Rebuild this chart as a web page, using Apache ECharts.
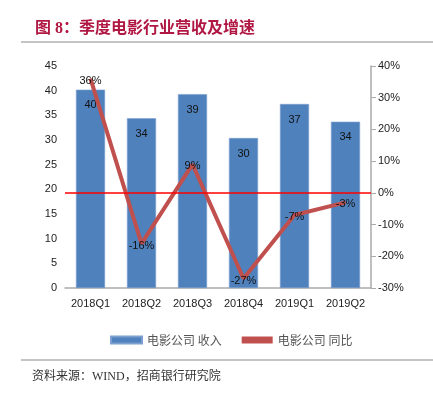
<!DOCTYPE html>
<html>
<head>
<meta charset="utf-8">
<script src="https://cdn.jsdelivr.net/npm/echarts@6/dist/echarts.min.js"></script>
<style>
  html, body { margin: 0; padding: 0; background: #fff; }
  #chart { width: 433px; height: 398px; }
</style>
</head>
<body>
<div id="chart"></div>
<script>
let categories = ['2018Q1', '2018Q2', '2018Q3', '2018Q4', '2019Q1', '2019Q2'];
let revenue = [40.2, 34.4, 39.3, 30.4, 37.3, 33.7];   // 电影公司 收入
let growth = [36, -16, 9, -27, -7, -3];                 // 电影公司 同比 (%)
let zeroLine = [0];                                     // 0% 参考线（右轴）

let chart = echarts.init(document.getElementById('chart'));

let options = {
    animation: false,
    title: {
        text: '图 8：季度电影行业营收及增速',
        left: 30,
        top: 16,
        textStyle: {
            color: '#b01843',
            fontSize: 16,
            fontWeight: 'bold',
            fontFamily: '"Liberation Serif", "Noto Sans CJK SC", serif'
        }
    },
    graphic: [
        { type: 'line', shape: { x1: 21, y1: 42, x2: 433, y2: 42 }, style: { stroke: '#b0b0b0', lineWidth: 1.5 } },
        { type: 'line', shape: { x1: 21, y1: 360, x2: 433, y2: 360 }, style: { stroke: '#b0b0b0', lineWidth: 1.5 } },
        {
            type: 'text', left: 32, top: 371,
            style: {
                text: '资料来源：WIND，招商银行研究院',
                fill: '#333',
                font: '12px "Liberation Serif", "Noto Sans CJK SC", serif'
            }
        }
    ],
    grid: {
        left: 65,
        right: 62,
        top: 66,
        bottom: 110
    },
    legend: {
        top: 329,
        left: 105,
        itemGap: 20,
        itemWidth: 31,
        itemHeight: 7,
        textStyle: { color: '#555', fontSize: 12, fontFamily: '"Noto Sans CJK SC", sans-serif' },
        data: [
            { name: '电影公司 收入', icon: 'rect' },
            { name: '电影公司 同比', icon: 'rect', itemStyle: { color: '#c0504d' } }
        ]
    },
    xAxis: {
        type: 'category',
        data: categories,
        axisLine: { onZero: false, lineStyle: { color: '#aaa', width: 1.5 } },
        axisTick: { show: false },
        axisLabel: { color: '#222', fontSize: 11, margin: 10, fontFamily: 'Liberation Sans, sans-serif' }
    },
    yAxis: [
        {
            type: 'value',
            min: 0,
            max: 45,
            interval: 5,
            axisLine: { show: false },
            axisTick: { show: false },
            splitLine: { show: false },
            axisLabel: { color: '#222', fontSize: 11, margin: 8, fontFamily: 'Liberation Sans, sans-serif' }
        },
        {
            type: 'value',
            min: -30,
            max: 40,
            interval: 10,
            axisLine: { show: true, lineStyle: { color: '#aaa', width: 1.5 } },
            axisTick: { show: true, length: 5, lineStyle: { color: '#aaa' } },
            splitLine: { show: false },
            axisLabel: { color: '#222', fontSize: 11, margin: 7, formatter: '{value}%', fontFamily: 'Liberation Sans, sans-serif' }
        }
    ],
    series: [
        {
            name: '电影公司 收入',
            type: 'bar',
            data: revenue,
            barWidth: '57%',
            itemStyle: { color: '#4f81bd', borderColor: '#7a9fd0', borderWidth: 0.6 },
            label: {
                show: true,
                position: 'insideTop',
                distance: 10,
                color: '#111',
                fontSize: 11,
                fontFamily: 'Liberation Sans, sans-serif',
                formatter: (p) => Math.round(p.value)
            }
        },
        {
            name: 'zero',
            type: 'line',
            yAxisIndex: 1,
            data: [],
            z: 2,
            color: '#ff0000',
            markLine: {
                silent: true,
                symbol: ['none', 'none'],
                label: { show: false },
                lineStyle: { color: '#ff0000', width: 1.6, type: 'solid' },
                data: zeroLine.map((v) => ({ yAxis: v }))
            }
        },
        {
            name: '电影公司 同比',
            type: 'line',
            yAxisIndex: 1,
            data: growth,
            symbol: 'circle',
            symbolSize: 1,
            showSymbol: true,
            z: 3,
            lineStyle: { color: '#c0504d', width: 4 },
            itemStyle: { color: '#c0504d' },
            label: {
                show: true,
                position: 'top',
                distance: 0,
                offset: [0, 8],
                color: '#111',
                fontSize: 11,
                fontFamily: 'Liberation Sans, sans-serif',
                formatter: '{c}%'
            }
        }
    ]
};

chart.setOption(options);
</script>
</body>
</html>
